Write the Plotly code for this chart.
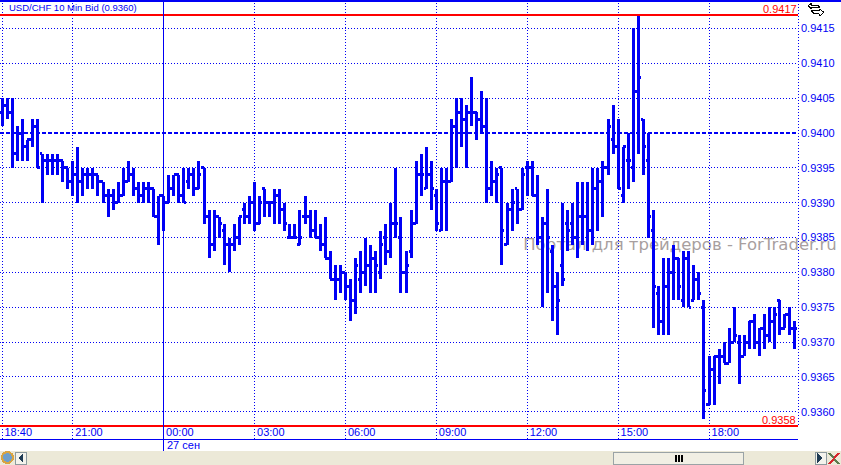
import plotly.graph_objects as go

BASE_PRICE = 0.9400
PIP = 0.0001
open_pips = [3,4,3,-3,0,-2,-1,1,-3,-4,-4,-4,-4,-5,-7,-6,-7,-6,-6,-6,-7,-9,-9,-10,-9,-7,-6,-8,-9,-8,
             -8,-12,-9,-10,-8,-6,-9,-7,-6,-8,-5,-12,-16,-12,-14,-16,-16,-15,-11,-12,-10,-13,-8,-10,-10,-9,-11,-15,-15,-16,
             -12,-12,-14,-15,-16,-18,-21,-21,-20,-22,-24,-21,-20,-19,-18,-20,-15,-17,-13,-15,-20,-17,-13,-6,-8,-6,-9,-14,-7,-7,
             1,3,2,3,3,2,1,-8,-7,-5,-16,-11,-8,-11,-5,-5,-9,-15,-13,-17,-22,-19,-13,-13,-15,-12,-12,-14,-8,-7,
             -5,-1,-2,-9,-4,-5,6,2,-4,-14,-23,-27,-22,-20,-18,-24,-18,-24,-21,-25,-39,-34,-32,-32,-33,-30,-30,-32,-30,-27,
             -30,-28,-29,-27,-24,-28,-26,-28]
high_pips = [5,5,5,1,2,-1,2,2,-3,-3,-3,-3,-4,-5,-4,-2,-5,-5,-5,-6,-7,-8,-8,-7,-5,-4,-5,-7,-7,-7,
             -8,-9,-9,-6,-6,-6,-5,-5,-5,-4,-5,-11,-11,-12,-13,-15,-13,-12,-10,-9,-7,-9,-8,-10,-8,-8,-10,-13,-13,-11,
             -9,-11,-11,-13,-12,-17,-19,-19,-20,-21,-18,-17,-15,-16,-17,-14,-13,-10,-5,-12,-17,-11,-4,-3,-2,-4,-8,-5,-5,2,
             5,5,4,8,3,6,5,-4,-5,-5,-10,-8,-8,-5,-4,-4,-6,-12,-8,-16,-20,-10,-11,-10,-7,-7,-7,-5,-5,-4,
             2,4,2,-2,0,15,17,2,0,-11,-22,-18,-18,-16,-18,-17,-17,-19,-20,-24,-32,-32,-31,-30,-28,-25,-29,-29,-27,-26,
             -28,-26,-25,-25,-24,-26,-25,-27]
low_pips = [1,2,-5,-4,-4,-4,-2,-5,-10,-6,-6,-6,-7,-8,-9,-10,-9,-8,-8,-9,-10,-12,-11,-10,-9,-7,-9,-10,-10,-10,
            -12,-16,-14,-10,-9,-10,-10,-8,-9,-8,-13,-18,-17,-15,-19,-20,-17,-16,-13,-13,-14,-13,-12,-12,-13,-13,-14,-15,-15,-16,
            -13,-15,-15,-17,-18,-21,-24,-23,-24,-27,-26,-23,-22,-23,-23,-21,-19,-18,-15,-23,-23,-18,-13,-9,-8,-11,-14,-14,-14,-7,
            -5,-2,-5,1,-1,0,-10,-9,-10,-19,-16,-14,-13,-11,-9,-9,-16,-25,-23,-27,-29,-22,-17,-16,-18,-16,-17,-16,-14,-12,
            -6,-3,-8,-10,-8,-7,-3,-6,-15,-28,-29,-29,-29,-24,-24,-25,-25,-24,-24,-41,-39,-39,-36,-33,-33,-30,-36,-32,-31,-31,
            -32,-31,-30,-31,-29,-28,-29,-31]
close_pips = [4,3,-3,0,-2,-1,1,-5,-4,-4,-4,-4,-5,-7,-6,-7,-6,-6,-6,-7,-9,-9,-10,-9,-7,-6,-8,-9,-8,-8,
              -12,-9,-10,-8,-6,-9,-10,-6,-8,-6,-12,-16,-12,-13,-16,-16,-15,-12,-12,-10,-13,-10,-10,-10,-9,-11,-13,-15,-15,-15,
              -12,-14,-15,-16,-18,-21,-21,-20,-22,-24,-19,-20,-19,-18,-19,-16,-17,-13,-13,-20,-19,-13,-6,-6,-6,-8,-13,-7,-7,1,
              3,2,3,3,2,1,-8,-7,-6,-14,-11,-10,-11,-6,-5,-9,-15,-13,-15,-22,-24,-21,-14,-15,-12,-12,-14,-8,-7,-5,
              1,-2,-8,-2,-4,6,8,-2,-12,-22,-27,-22,-20,-18,-22,-18,-25,-21,-23,-37,-34,-32,-32,-33,-30,-29,-32,-30,-27,-30,
              -28,-29,-27,-26,-28,-26,-28,-28]
assert len(open_pips) == len(high_pips) == len(low_pips) == len(close_pips) == 158

time_ticks = [0, 14, 32, 50, 68, 86, 104, 122, 140]
time_labels = ["18:40", "21:00", "00:00", "03:00", "06:00", "09:00", "12:00", "15:00", "18:00"]
price_ticks = [0.9360, 0.9365, 0.9370, 0.9375, 0.9380, 0.9385, 0.9390, 0.9395,
               0.9400, 0.9405, 0.9410, 0.9415]
price_labels = [f"{v:.4f}" for v in price_ticks]
high_line, low_line, level_line = 0.9417, 0.9358, 0.9400
date_tick, date_label = 32, "27 сен"
title_text = "USD/CHF 10 Min Bid (0.9360)"
watermark = "Портал для трейдеров - ForTrader.ru"

BLUE, RED = "#0000F5", "#FF0000"
W, PH = 798, 439


def to_price(seq):
    return [round(BASE_PRICE + v * PIP, 4) for v in seq]


def px(x):
    return x / W


def py(y):
    return (PH - y) / PH


fig = go.Figure(go.Ohlc(
    x=list(range(len(open_pips))),
    open=to_price(open_pips), high=to_price(high_pips),
    low=to_price(low_pips), close=to_price(close_pips),
    increasing=dict(line=dict(color=BLUE, width=3)),
    decreasing=dict(line=dict(color=BLUE, width=3)),
    tickwidth=0.5, hoverinfo="skip", showlegend=False,
))

shapes = []
# watermark below the bars
shapes.append(dict(type="line", xref="paper", yref="paper", layer="below",
                   x0=px(525), x1=px(835), y0=py(243), y1=py(243),
                   line=dict(width=0, color="rgba(0,0,0,0)"),
                   label=dict(text=watermark, textposition="middle", yanchor="middle",
                              font=dict(family="DejaVu Sans", size=16.5, color="#A89F9F"))))
for lvl, colr, wid, dash in [(high_line, RED, 2, "solid"), (low_line, RED, 2, "solid"),
                             (level_line, BLUE, 2, "4px,2px")]:
    shapes.append(dict(type="line", xref="paper", yref="y", x0=0, x1=1, y0=lvl, y1=lvl,
                       layer="above" if colr == RED else "below",
                       line=dict(color=colr, width=wid, dash=dash)))
# session-start line, top border, right border
shapes.append(dict(type="line", xref="x", yref="paper", x0=date_tick, x1=date_tick,
                   y0=py(451), y1=1, line=dict(color=BLUE, width=1)))
shapes.append(dict(type="line", xref="paper", yref="paper", x0=0, x1=841 / W, y0=py(1), y1=py(1),
                   line=dict(color=BLUE, width=2)))
shapes.append(dict(type="line", xref="paper", yref="paper", x0=1, x1=1, y0=py(425), y1=1,
                   line=dict(color=BLUE, width=1, dash="1px,2px")))


def rect(x0, y0, x1, y1, fill, line=None):
    shapes.append(dict(type="rect", xref="paper", yref="paper", x0=px(x0), x1=px(x1),
                       y0=py(y1), y1=py(y0), fillcolor=fill,
                       line=dict(color=line or fill, width=1)))


def path(points, fill=None, line="#000000", width=1, close=True):
    d = "M" + " L".join(f"{px(a):.5f},{py(b):.5f}" for a, b in points) + (" Z" if close else "")
    shapes.append(dict(type="path", xref="paper", yref="paper", path=d,
                       fillcolor=fill or "rgba(0,0,0,0)", line=dict(color=line, width=width)))


# scrollbar strip
rect(0, 451, 841, 465, "#ECE9D8")
rect(15, 452, 26, 464, "#F4F3EC", "#8D9A9E")
path([(23, 454), (23, 462), (19, 458)], "#1F3B53", "#1F3B53")
rect(613, 452, 743, 464, "#F1EFE4", "#9AA3A6")
for gx in (675, 678, 681):
    rect(gx, 455, gx + 1, 461, "#000000")
rect(815, 452, 826, 464, "#F4F3EC", "#8D9A9E")
path([(818, 454), (818, 462), (822, 458)], "#1F3B53", "#1F3B53")
# globe icon
shapes.append(dict(type="circle", xref="paper", yref="paper", x0=px(2), x1=px(13),
                   y0=py(463), y1=py(452), fillcolor="#6E9FC9", line=dict(color="#D9A441", width=2)))
# close icon
path([(829, 453), (839, 464)], None, "#5E7A4E", 2, False)
path([(839, 453), (829, 464)], None, "#D8262C", 2, False)
# arrows glyph, top right
path([(808, 6), (812, 3), (812, 5), (818, 5), (820, 8), (812, 8), (812, 9)], "#FFFFFF", "#000000", 1)
path([(811, 10), (819, 10), (819, 9), (824, 12), (820, 16), (819, 14), (814, 14)], "#FFFFFF", "#000000", 1)

annotations = [
    dict(xref="paper", yref="paper", x=px(7), y=py(8), text=title_text, showarrow=False,
         xanchor="left", yanchor="middle", font=dict(size=9.5, color=BLUE)),
    dict(xref="paper", yref="y", x=px(797), y=high_line, text=f"{high_line:.4f}", showarrow=False,
         xanchor="right", yanchor="bottom", yshift=0, borderpad=0, borderwidth=0,
         font=dict(size=11, color=RED)),
    dict(xref="paper", yref="y", x=px(797), y=low_line, text=f"{low_line:.4f}", showarrow=False,
         xanchor="right", yanchor="bottom", yshift=-1, borderpad=0,
         font=dict(size=11, color=RED)),
    dict(xref="x", yref="paper", x=date_tick, y=py(445), text=date_label, showarrow=False,
         xanchor="left", yanchor="middle", xshift=1, font=dict(size=11, color=BLUE)),
]

fig.update_layout(
    width=841, height=465, margin=dict(l=0, r=43, t=0, b=26),
    paper_bgcolor="white", plot_bgcolor="white", showlegend=False,
    font=dict(family="Liberation Sans", size=11, color=BLUE),
    shapes=shapes, annotations=annotations,
    xaxis=dict(type="linear", range=[-0.396, 157.62], tickmode="array", tickvals=time_ticks,
               ticktext=time_labels, ticklabelposition="inside right", ticks="",
               ticklabelshift=2, ticklabelstandoff=-3,
               showgrid=True, gridcolor=BLUE, gridwidth=1, griddash="1px,2px",
               showline=True, linecolor=BLUE, linewidth=1, zeroline=False,
               rangeslider=dict(visible=False), tickfont=dict(size=11, color=BLUE)),
    yaxis=dict(range=[0.93561, 0.941908], side="right", tickmode="array", tickvals=price_ticks,
               ticktext=price_labels, ticks="", ticklen=0, ticklabelstandoff=2, showgrid=True,
               gridcolor=BLUE, gridwidth=1, griddash="1px,2px", showline=False, zeroline=False,
               tickfont=dict(size=11, color=BLUE)),
)
fig.write_html("out.html", config=dict(displayModeBar=False),
               post_script=("document.body.style.margin='0';document.documentElement.style.overflow='hidden';"
                            "var s=document.createElement('style');"
                            "s.textContent='.ohlclayer path,.shapelayer path{shape-rendering:crispEdges}';"
                            "document.head.appendChild(s);"))
